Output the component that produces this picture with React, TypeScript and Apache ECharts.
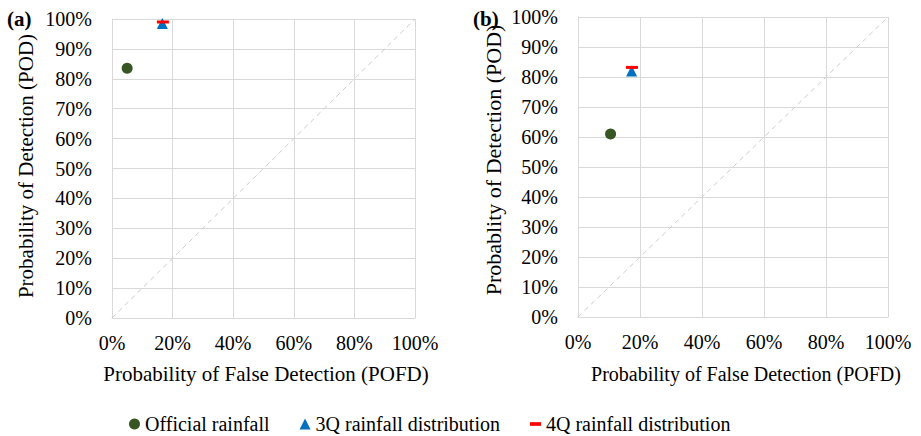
import React, { useEffect, useRef } from "react";
import * as echarts from "echarts";

const seriesNames = ["Official rainfall", "3Q rainfall distribution", "4Q rainfall distribution"];
const panelLabels = ["(a)", "(b)"];
const yTitles = ["Probability of Detection (POD)", "Probablity of Detection (POD)"];
const xTitle = "Probability of False Detection (POFD)";

// [POFD, POD] per panel
const officialA = [[0.05, 0.835]];
const q3A = [[0.166, 0.985]];
const q4A = [[0.168, 0.99]];
const officialB = [[0.105, 0.61]];
const q3B = [[0.173, 0.82]];
const q4B = [[0.174, 0.832]];
const diagonal = [[0, 0], [1, 1]];

const FONT = "Liberation Serif";
const GRID_COLOR = "#d9d9d9";
const colors = ["#375623", "#0070C0", "#FF0000"];

export default function App() {
  const ref = useRef<HTMLDivElement>(null);
  useEffect(() => {
    if (!ref.current) return;
    const chart = echarts.init(ref.current, undefined, { renderer: "svg" });
    const pct = (v: number) => Math.round(v * 100) + "%";
    const mkX = (i: number) => ({
      type: "value",
      gridIndex: i,
      min: 0,
      max: 1,
      interval: 0.2,
      axisLine: { show: true, lineStyle: { color: GRID_COLOR, width: 1 } },
      axisTick: { show: false },
      splitLine: { show: true, lineStyle: { color: GRID_COLOR, width: 1 } },
      axisLabel: { formatter: pct, fontSize: 20, fontFamily: FONT, color: "#000", margin: 15 },
    });
    const mkY = (i: number) => ({
      type: "value",
      gridIndex: i,
      min: 0,
      max: 1,
      interval: 0.1,
      axisLine: { show: true, lineStyle: { color: GRID_COLOR, width: 1 } },
      axisTick: { show: false },
      splitLine: { show: true, lineStyle: { color: GRID_COLOR, width: 1 } },
      axisLabel: { formatter: pct, fontSize: 20, fontFamily: FONT, color: "#000", margin: 20 },
    });
    const panels = [
      [officialA, q3A, q4A],
      [officialB, q3B, q4B],
    ];
    const series: any[] = [];
    panels.forEach((p, i) => {
      series.push({
        type: "line",
        xAxisIndex: i,
        yAxisIndex: i,
        data: diagonal,
        symbol: "none",
        silent: true,
        lineStyle: { type: [5, 4], color: "#cccccc", width: 1 },
        z: 1,
      });
      series.push({
        name: seriesNames[0],
        type: "scatter",
        xAxisIndex: i,
        yAxisIndex: i,
        data: p[0],
        symbol: "circle",
        symbolSize: 11,
        itemStyle: { color: colors[0], opacity: 1 },
        z: 3,
      });
      series.push({
        name: seriesNames[1],
        type: "scatter",
        xAxisIndex: i,
        yAxisIndex: i,
        data: p[1],
        symbol: "triangle",
        symbolSize: 11,
        itemStyle: { color: colors[1], opacity: 1 },
        z: 3,
      });
      series.push({
        name: seriesNames[2],
        type: "scatter",
        xAxisIndex: i,
        yAxisIndex: i,
        data: p[2],
        symbol: "rect",
        symbolSize: [12, 3],
        itemStyle: { color: colors[2], opacity: 1 },
        z: 4,
      });
    });
    const textStyleBase = { fontFamily: FONT, fill: "#000" };
    chart.setOption({
      animation: false,
      backgroundColor: "#fff",
      color: colors,
      textStyle: { fontFamily: FONT },
      grid: [
        { left: 112, top: 19, width: 303, height: 299 },
        { left: 578, top: 17, width: 310, height: 300 },
      ],
      xAxis: [mkX(0), mkX(1)],
      yAxis: [mkY(0), mkY(1)],
      legend: {
        left: 129,
        top: 414,
        padding: 0,
        itemWidth: 11,
        itemHeight: 11,
        itemGap: 30,
        textStyle: { fontSize: 20, fontFamily: FONT, color: "#000" },
        data: [
          { name: seriesNames[0], icon: "circle" },
          { name: seriesNames[1], icon: "triangle" },
          { name: seriesNames[2], icon: "path://M0,0h12v4h-12z" },
        ],
      },
      graphic: [
        { type: "text", left: 7, top: 8, style: { ...textStyleBase, text: panelLabels[0], fontSize: 21, fontWeight: "bold" } },
        { type: "text", left: 473, top: 8, style: { ...textStyleBase, text: panelLabels[1], fontSize: 21, fontWeight: "bold" } },
        {
          type: "text",
          x: 266,
          y: 374,
          style: { ...textStyleBase, text: xTitle, fontSize: 21, align: "center", verticalAlign: "middle" },
        },
        {
          type: "text",
          x: 746,
          y: 374,
          style: { ...textStyleBase, text: xTitle, fontSize: 20, align: "center", verticalAlign: "middle" },
        },
        {
          type: "text",
          x: 26,
          y: 166,
          rotation: Math.PI / 2,
          style: { ...textStyleBase, text: yTitles[0], fontSize: 21, align: "center", verticalAlign: "middle" },
        },
        {
          type: "text",
          x: 493,
          y: 160,
          rotation: Math.PI / 2,
          style: { ...textStyleBase, text: yTitles[1], fontSize: 22, align: "center", verticalAlign: "middle" },
        },
      ],
      series,
    });
    return () => chart.dispose();
  }, []);
  return <div ref={ref} style={{ position: "fixed", left: 0, top: 0, width: 921, height: 436 }} />;
}
